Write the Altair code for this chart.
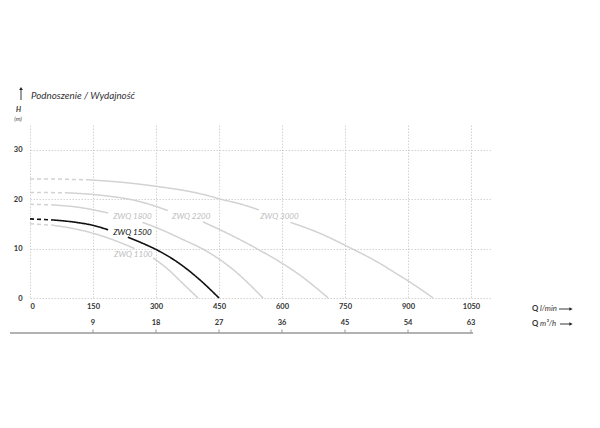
import altair as alt
import pandas as pd

# ---- data ----
models = ["ZWQ 1100", "ZWQ 1500", "ZWQ 1800", "ZWQ 2200", "ZWQ 3000"]

q_1100 = [0, 51, 100, 150, 200, 249, 293, 330, 357, 400]
h_1100 = [15.0, 14.75, 14.1, 13.1, 11.7, 10.0, 8.1, 5.7, 3.5, 0]

q_1500 = [0, 52, 110, 150, 186, 233, 270, 305, 357, 400, 450]
h_1500 = [16.0, 15.8, 15.3, 14.7, 13.8, 12.3, 11.0, 9.6, 6.9, 4.0, 0]

q_1800 = [0, 52, 120, 186, 268, 305, 357, 420, 480, 555]
h_1800 = [18.95, 18.85, 18.3, 17.2, 15.3, 14.1, 12.1, 9.5, 6.0, 0]

q_2200 = [0, 83, 167, 262, 328, 412, 460, 500, 548, 595, 643, 710]
h_2200 = [21.35, 21.3, 20.8, 19.5, 17.7, 15.4, 13.5, 11.8, 9.6, 7.3, 4.6, 0]

q_3000 = [0, 70, 140, 220, 300, 405, 450, 525, 545, 620, 690, 754, 833, 873, 905, 960]
h_3000 = [24.1, 24.05, 23.9, 23.4, 22.6, 21.1, 20.1, 18.4, 17.8, 15.3, 13.1, 10.5, 7.0, 4.9, 3.2, 0]

# dashed up to, and gap (label) between
dash_end = {"ZWQ 1100": 51, "ZWQ 1500": 52, "ZWQ 1800": 52, "ZWQ 2200": 83, "ZWQ 3000": 140}
gap = {"ZWQ 1100": (249, 293), "ZWQ 1500": (186, 233), "ZWQ 1800": (186, 268),
       "ZWQ 2200": (328, 412), "ZWQ 3000": (545, 620)}

label_q = [200, 198, 198, 338, 548]
label_h = [8.7, 13.1, 16.3, 16.45, 16.45]

x_ticks = [0, 150, 300, 450, 600, 750, 900, 1050]
y_ticks = [0, 5, 10, 15, 20, 25, 30]
m3h_ticks = [9, 18, 27, 36, 45, 54, 63]

series = {
    "ZWQ 1100": (q_1100, h_1100),
    "ZWQ 1500": (q_1500, h_1500),
    "ZWQ 1800": (q_1800, h_1800),
    "ZWQ 2200": (q_2200, h_2200),
    "ZWQ 3000": (q_3000, h_3000),
}

rows = []
for m, (qs, hs) in series.items():
    d = dash_end[m]
    g1, g2 = gap[m]
    for i, (q, h) in enumerate(zip(qs, hs)):
        if q <= d:
            rows.append(dict(model=m, seg=m + "-d", style="dashed", Q=q, H=h, o=i))
        if d <= q <= g1:
            rows.append(dict(model=m, seg=m + "-a", style="solid", Q=q, H=h, o=i))
        if q >= g2:
            rows.append(dict(model=m, seg=m + "-b", style="solid", Q=q, H=h, o=i))
df = pd.DataFrame(rows)

df_lab = pd.DataFrame({"model": models, "Q": label_q, "H": label_h})
df_m3 = pd.DataFrame({"m3": m3h_ticks})
df_m3["Q"] = df_m3["m3"] * 1000 / 60

FONT = "Lato"
GREY = "#d2d2d2"

xscale = alt.Scale(domain=[0, 1100], nice=False)
yscale = alt.Scale(domain=[0, 35], nice=False)

xaxis = alt.Axis(values=x_ticks, title=None, domain=False, ticks=False, grid=True,
                 format="d",
                 gridDash=[1.5, 1.5], gridColor="#c8c8c8", gridWidth=0.8,
                 labelFont=FONT, labelFontWeight="bold", labelFontSize=7.5,
                 labelColor="#333", labelPadding=4)
yaxis = alt.Axis(values=y_ticks, title=None, domain=False, ticks=False, grid=True,
                 gridDash=[1.5, 1.5], gridColor="#c8c8c8", gridWidth=0.8,
                 labelFont=FONT, labelFontWeight="bold", labelFontSize=7.5,
                 labelColor="#333", labelPadding=8)

dash_scale = alt.Scale(domain=["solid", "dashed"], range=[[1, 0], [4, 3]])

grey_lines = alt.Chart(df[df.model != "ZWQ 1500"]).mark_line(
    color=GREY, strokeWidth=1.5, interpolate="monotone"
).encode(
    x=alt.X("Q:Q", scale=xscale, axis=xaxis),
    y=alt.Y("H:Q", scale=yscale, axis=yaxis),
    detail="seg:N",
    order="o:Q",
    strokeDash=alt.StrokeDash("style:N", scale=dash_scale, legend=None),
)

black_line = alt.Chart(df[df.model == "ZWQ 1500"]).mark_line(
    color="#111", strokeWidth=1.6, interpolate="monotone"
).encode(
    x="Q:Q", y="H:Q", detail="seg:N", order="o:Q",
    strokeDash=alt.StrokeDash("style:N", scale=dash_scale, legend=None),
)

labels = alt.Chart(df_lab).mark_text(
    align="left", baseline="middle", font=FONT, fontStyle="italic", fontSize=8
).encode(
    x="Q:Q", y="H:Q", text="model:N",
    color=alt.Color("model:N", scale=alt.Scale(domain=models,
                    range=["#bdbdbd", "#111", "#bdbdbd", "#bdbdbd", "#bdbdbd"]), legend=None),
)

# secondary m3/h axis
base_rule = alt.Chart(pd.DataFrame({"a": [0]})).mark_rule(color="#999", strokeWidth=1.3).encode(
    x=alt.value(-20), x2=alt.value(443), y=alt.value(208)
)
m3_ticks = alt.Chart(df_m3).mark_rule(color="#999", strokeWidth=1).encode(
    x="Q:Q", y=alt.value(204.5), y2=alt.value(208)
)
m3_labels = alt.Chart(df_m3).mark_text(
    font=FONT, fontWeight="bold", fontSize=7.5, color="#333", baseline="middle"
).encode(x="Q:Q", y=alt.value(198.3), text="m3:N")


def txt(s, x, y, **kw):
    return alt.Chart(pd.DataFrame({"t": [s]})).mark_text(
        font=FONT, baseline="middle", **kw
    ).encode(x=alt.value(x), y=alt.value(y), text="t:N")


def hrule(x1, x2, y, color="#222"):
    return alt.Chart(pd.DataFrame({"a": [0]})).mark_rule(color=color, strokeWidth=0.9).encode(
        x=alt.value(x1), x2=alt.value(x2), y=alt.value(y)
    )


def head(x, y, shape):
    return alt.Chart(pd.DataFrame({"a": [0]})).mark_point(
        shape=shape, filled=True, color="#222", size=14, opacity=1
    ).encode(x=alt.value(x), y=alt.value(y))


title = txt("Podnoszenie / Wydajność", 1, -29, align="left", fontStyle="italic",
            fontSize=9.8, color="#333")
h_lab = txt("H", -11.5, -15, align="center", fontStyle="italic", fontWeight="bold",
            fontSize=7, color="#333")
m_lab = txt("(m)", -12, -6, align="center", fontStyle="italic", fontSize=6, color="#444")
up_arrow = alt.Chart(pd.DataFrame({"a": [0]})).mark_rule(color="#222", strokeWidth=0.9).encode(
    x=alt.value(-9), y=alt.value(-36), y2=alt.value(-25)
)
up_head = head(-9, -36.5, "triangle-up")

q1 = txt("Q", 502, 184, align="left", fontWeight="bold", fontSize=7.8, color="#333")
q1u = txt("l/min", 510, 184, align="left", fontStyle="italic", fontSize=7.8, color="#333")
q1r = hrule(529, 540, 184)
q1h = head(541, 184, "triangle-right")
q2 = txt("Q", 502, 199, align="left", fontWeight="bold", fontSize=7.8, color="#333")
q2u = txt("m³/h", 510, 199, align="left", fontStyle="italic", fontSize=7.8, color="#333")
q2r = hrule(530, 540, 199)
q2h = head(541, 199, "triangle-right")

chart = alt.layer(
    grey_lines, black_line, labels,
    base_rule, m3_ticks, m3_labels,
    title, h_lab, m_lab, up_arrow, up_head,
    q1, q1u, q1r, q1h, q2, q2u, q2r, q2h,
).properties(
    width=462, height=173,
    padding={"left": 22, "top": 117, "right": 100, "bottom": 122},
    autosize=alt.AutoSizeParams(type="none"),
    background="white",
).configure_view(stroke=None)

chart.save("out.html", embed_options={"renderer": "svg", "actions": False})
